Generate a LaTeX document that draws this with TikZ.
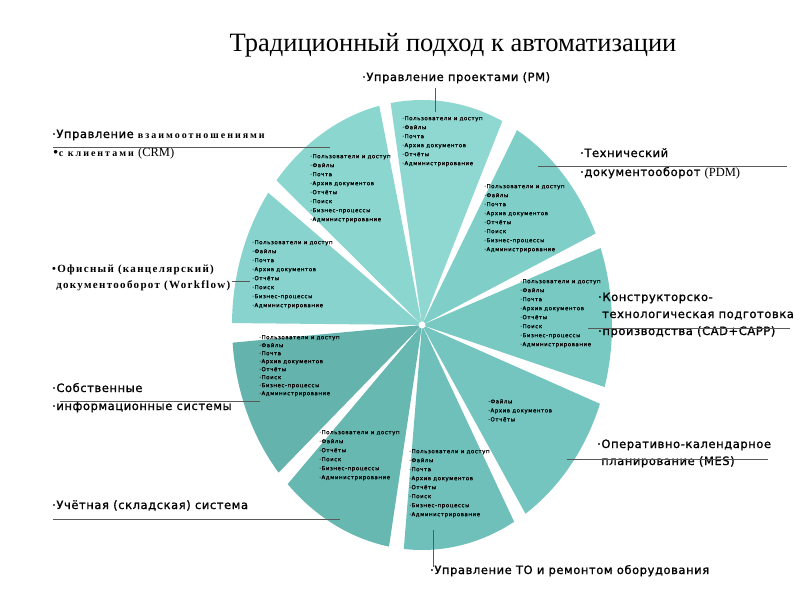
\documentclass[tikz,border=0pt]{standalone}
\usepackage{fontspec}
\setmainfont{Liberation Serif}
\newfontfamily\labf[FakeBold=1.2,LetterSpace=5]{DejaVu Sans}
\newfontfamily\itmf[FakeBold=1,LetterSpace=10]{DejaVu Sans}
\newfontfamily\crmf[LetterSpace=20]{Liberation Serif}
\newfontfamily\offf[LetterSpace=12]{Liberation Serif}
\definecolor{cPM}{HTML}{8FD7D1}
\definecolor{cCRM}{HTML}{8CD6D0}
\definecolor{cOF}{HTML}{88D3CD}
\definecolor{cPDM}{HTML}{7FCEC8}
\definecolor{cCAD}{HTML}{79C9C3}
\definecolor{cMES}{HTML}{74C5BF}
\definecolor{cTO}{HTML}{6FC0BA}
\definecolor{cUCH}{HTML}{68B8B2}
\definecolor{cSOB}{HTML}{65B3AD}
\newcommand\pieslice[3]{\fill[#3] (C) -- ++(#1:190pt and 225pt) arc[start angle=#1,end angle=#2,x radius=190pt,y radius=225pt] -- cycle;}
\begin{document}
\begin{tikzpicture}[x=1pt,y=-1pt,
  itm/.style={anchor=north west, inner sep=0pt, align=left, font=\itmf\fontsize{5.5pt}{9pt}\selectfont},
  lab/.style={anchor=base west, inner sep=0pt, font=\labf\fontsize{11.5pt}{13pt}\selectfont},
  conn/.style={draw=black!65, line width=0.8pt}]
\useasboundingbox[fill=white] (0,0) rectangle (800,600);
\coordinate (C) at (422,325);
% sectors
\pieslice{65}{99.5}{cPM}
\pieslice{103}{140}{cCRM}
\pieslice{144}{179.5}{cOF}
\pieslice{24}{60}{cPDM}
\pieslice{-16}{20}{cCAD}
\pieslice{-57}{-20.5}{cMES}
\pieslice{-95.5}{-61}{cTO}
\pieslice{-135}{-100}{cUCH}
\pieslice{-175.5}{-139}{cSOB}
\fill[white] (C) circle[radius=3.5pt];
% title
\node[anchor=base, inner sep=0pt, font=\fontsize{26.5pt}{30pt}\selectfont] (title) at (453,51) {Традиционный подход к автоматизации};
% sector item lists
\node[itm] (tPM) at (402,116) {·Пользователи и доступ\\·Файлы\\·Почта\\·Архив документов\\·Отчёты\\·Администрирование};
\node[itm] (tCRM) at (310,154) {·Пользователи и доступ\\·Файлы\\·Почта\\·Архив документов\\·Отчёты\\·Поиск\\·Бизнес-процессы\\·Администрирование};
\node[itm] (tPDM) at (484,184) {·Пользователи и доступ\\·Файлы\\·Почта\\·Архив документов\\·Отчёты\\·Поиск\\·Бизнес-процессы\\·Администрирование};
\node[itm] (tOF) at (252,240) {·Пользователи и доступ\\·Файлы\\·Почта\\·Архив документов\\·Отчёты\\·Поиск\\·Бизнес-процессы\\·Администрирование};
\node[itm] (tCAD) at (520,279) {·Пользователи и доступ\\·Файлы\\·Почта\\·Архив документов\\·Отчёты\\·Поиск\\·Бизнес-процессы\\·Администрирование};
\node[itm, font=\itmf\fontsize{5.5pt}{8pt}\selectfont] (tSOB) at (259,335) {·Пользователи и доступ\\·Файлы\\·Почта\\·Архив документов\\·Отчёты\\·Поиск\\·Бизнес-процессы\\·Администрирование};
\node[itm] (tMES) at (488,399) {·Файлы\\·Архив документов\\·Отчёты};
\node[itm] (tUCH) at (319,430) {·Пользователи и доступ\\·Файлы\\·Отчёты\\·Поиск\\·Бизнес-процессы\\·Администрирование};
\node[itm] (tTO) at (409,449) {·Пользователи и доступ\\·Файлы\\·Почта\\·Архив документов\\·Отчёты\\·Поиск\\·Бизнес-процессы\\·Администрирование};
% outer labels
\node[lab] (lPM) at (362,81) {·Управление проектами (PM)};
\node[lab] (lCRM1) at (52,138) {·Управление {\crmf\bfseries\fontsize{10pt}{11pt}\selectfont взаимоотношениями}};
\node[lab] (lCRM2) at (52,156) {•{\crmf\bfseries\fontsize{10pt}{11pt}\selectfont с клиентами} {\rmfamily\fontsize{12.5pt}{14pt}\selectfont (CRM)}};
\node[lab] (lPDM1) at (580,157) {·Технический};
\node[lab] (lPDM2) at (580,176) {·документооборот {\rmfamily\fontsize{12.5pt}{14pt}\selectfont (PDM)}};
\node[lab, font=\offf\bfseries\fontsize{11pt}{13pt}\selectfont] (lOF1) at (52,272) {•Офисный (канцелярский)};
\node[lab, font=\offf\bfseries\fontsize{11pt}{13pt}\selectfont] (lOF2) at (52,288) {\ документооборот (Workflow)};
\node[lab] (lCAD1) at (598,301) {·Конструкторско-};
\node[lab] (lCAD2) at (602,318) {технологическая подготовка};
\node[lab] (lCAD3) at (598,335) {·производства (CAD+CAPP)};
\node[lab] (lSOB1) at (52,392) {·Собственные};
\node[lab] (lSOB2) at (52,410) {·информационные системы};
\node[lab] (lMES1) at (597,448) {·Оперативно-календарное};
\node[lab] (lMES2) at (601,465) {планирование (MES)};
\node[lab] (lUCH) at (52,509) {·Учётная (складская) система};
\node[lab] (lTO) at (430,574) {·Управление ТО и ремонтом оборудования};
% connector lines
\coordinate (pPMa) at (435,88);   \coordinate (pPMb) at (435,112);
\coordinate (pCRMa) at (53,147);  \coordinate (pCRMb) at (330,147);
\coordinate (pPDMa) at (538,166); \coordinate (pPDMb) at (787,166);
\coordinate (pOFa) at (232,281);  \coordinate (pOFb) at (250,281);
\coordinate (pCADa) at (588,328); \coordinate (pCADb) at (790,328);
\coordinate (pSOBa) at (60,401);  \coordinate (pSOBb) at (260,401);
\coordinate (pMESa) at (567,459); \coordinate (pMESb) at (768,459);
\coordinate (pUCHa) at (53,519);  \coordinate (pUCHb) at (340,519);
\coordinate (pTOa) at (433,530);  \coordinate (pTOb) at (433,567);
\draw[conn] (pPMa) -- (pPMb);
\draw[conn] (pCRMa) -- (pCRMb);
\draw[conn] (pPDMa) -- (pPDMb);
\draw[conn] (pOFa) -- (pOFb);
\draw[conn] (pCADa) -- (pCADb);
\draw[conn] (pSOBa) -- (pSOBb);
\draw[conn] (pMESa) -- (pMESb);
\draw[conn] (pUCHa) -- (pUCHb);
\draw[conn] (pTOa) -- (pTOb);
\end{tikzpicture}
\end{document}
